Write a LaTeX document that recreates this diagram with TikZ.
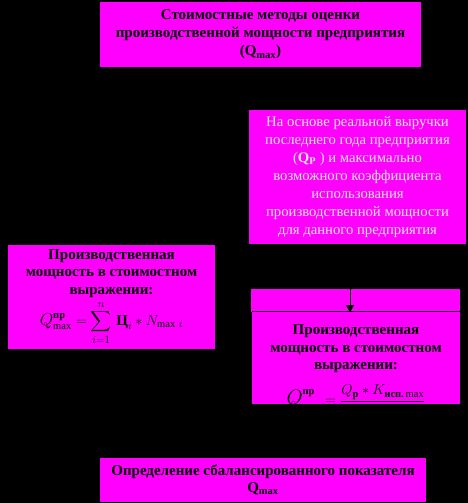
\documentclass[tikz,border=0pt]{standalone}
\usepackage{amsmath}
\usepackage{fontspec}
\setmainfont{Liberation Serif}
\usetikzlibrary{arrows.meta,positioning}
\definecolor{mag}{RGB}{255,0,255}

\begin{document}
\begin{tikzpicture}[
  x=1pt, y=-1pt,
  box/.style={fill=mag, draw=none, align=center, inner sep=0pt},
  hdr/.style={box, font=\fontsize{15}{18}\selectfont\bfseries},
  note/.style={box, font=\fontsize{14.7}{18}\selectfont, text=white!90!black},
  lbl/.style={align=center, inner sep=0pt, font=\fontsize{15}{17.5}\selectfont\bfseries}
]
\fill[black] (0,0) rectangle (468,503);
\useasboundingbox (0,0) rectangle (468,503);

\node[hdr, minimum width=321pt, minimum height=65pt] (metody) at (260.5,34.5)
  {Стоимостные методы оценки\\производственной мощности предприятия\\(Q\textsubscript{max})};

\node[note, minimum width=217pt, minimum height=134pt] (vyruchka) at (357.5,177)
  {На основе реальной выручки\\последнего года предприятия\\(\textbf{Q\textsubscript{Р}} ) и максимально\\возможного коэффициента\\использования\\производственной мощности\\для данного предприятия};

\node[box, minimum width=209pt, minimum height=23pt] (polosa) at (355.5,300.5) {};
\node[box, minimum width=208pt, minimum height=92pt] (moshch) at (356,358) {};
\draw[line width=0.8pt] (moshch.north west) -- (moshch.north east);
\begin{scope}
  \clip (moshch.south west) rectangle (moshch.north east);
  \node[lbl, anchor=north, yshift=-13pt] (moshchtxt) at (moshch.north)
    {Производственная\\мощность в стоимостном\\выражении:\\[11pt]
     $\displaystyle \text{\fontsize{20}{20}\selectfont$Q$}^{\text{пр}}_{\max} = \frac{Q_{\text{р}} * K_{\text{исп.}\max}}{\vphantom{K}}$};
\end{scope}

\node[lbl, box, minimum width=207pt, minimum height=104pt] (moshchleft) at (111.5,297)
  {Производственная\\мощность в стоимостном\\выражении:\\[3pt]
   $\displaystyle \text{\fontsize{18}{18}\selectfont$Q$}^{\text{пр}}_{\max} = \sum_{i=1}^{n}\,\text{Ц}_i * N_{\max\,i}$};

\node[hdr, minimum width=326pt, minimum height=44pt, font=\fontsize{15}{16.5}\selectfont\bfseries] (balans) at (263,480)
  {Определение сбалансированного показателя\\Q\textsubscript{max}};

\draw[line width=1pt, -{Triangle[length=7pt,width=8pt]}]
  ([xshift=-5.5pt]polosa.north) -- ([xshift=-5.5pt]polosa.south);
\end{tikzpicture}
\end{document}
